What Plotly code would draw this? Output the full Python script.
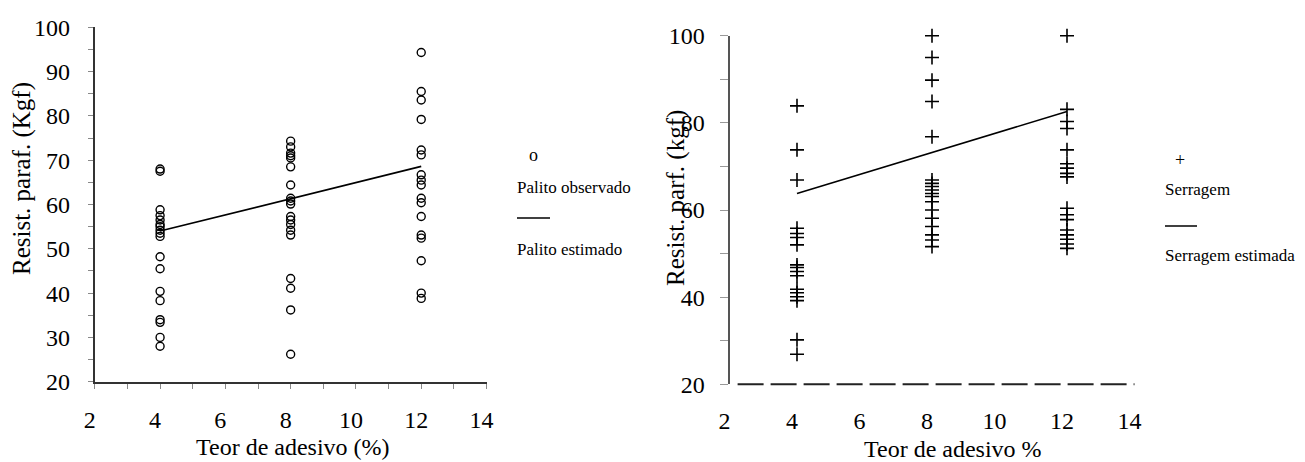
import plotly.graph_objects as go

# ---------------- data ----------------
palito_x4 = [68, 67.5, 58.8, 57.5, 56.5, 55.5, 55, 54.2, 53.5, 52.8, 48.2, 45.5, 40.4, 38.3, 34, 33.4, 30, 28]
palito_x8 = [74.3, 73, 71.6, 71, 70.5, 68.5, 64.4, 61.4, 60.8, 60.1, 57.3, 56.5, 55.5, 54.2, 53.1, 43.3, 41.1, 36.2, 26.2]
palito_x12 = [94.3, 85.5, 83.6, 79.2, 72.3, 71.2, 66.7, 65.5, 64.4, 61.4, 60.4, 57.3, 53.1, 52.4, 47.3, 40, 38.8]
palito_est_x = [4, 12]
palito_est_y = [54.0, 68.6]

serragem_x4 = [83.9, 73.8, 66.9, 55.8, 54.6, 53.7, 52, 47.4, 46.8, 45.9, 44.9, 41.8, 41, 40.1, 39.2, 30.2, 26.9]
serragem_x8 = [100, 95, 89.8, 84.9, 76.8, 66.9, 66.1, 65.4, 64.6, 63.8, 63.1, 61.9, 60, 58.1, 56.2, 54.3, 53.1, 51.6]
serragem_x12 = [100, 83.1, 80.3, 78.7, 73.8, 70.6, 69.6, 68.4, 67.6, 60.4, 58.9, 57.8, 55.4, 54.3, 53.3, 52.2, 51.2]
serragem_est_x = [4, 12]
serragem_est_y = [63.8, 82.6]

x_levels = [4, 8, 12]
x_ticks = [2, 4, 6, 8, 10, 12, 14]
left_y_ticks = [20, 30, 40, 50, 60, 70, 80, 90, 100]
right_y_ticks = [20, 40, 60, 80, 100]

FONT = "Liberation Serif"


def flat(levels, groups):
    xs, ys = [], []
    for lv, g in zip(levels, groups):
        xs += [lv] * len(g)
        ys += list(g)
    return xs, ys


px, py = flat(x_levels, [palito_x4, palito_x8, palito_x12])
sx, sy = flat(x_levels, [serragem_x4, serragem_x8, serragem_x12])

fig = go.Figure()
fig.add_trace(go.Scatter(x=px, y=py, mode="markers", xaxis="x", yaxis="y", cliponaxis=False,
                         marker=dict(symbol="circle-open", size=8, color="black", line=dict(width=1.4, color="black")),
                         name="Palito observado"))
fig.add_trace(go.Scatter(x=palito_est_x, y=palito_est_y, mode="lines", xaxis="x", yaxis="y",
                         line=dict(color="black", width=1.6), name="Palito estimado"))
fig.add_trace(go.Scatter(x=sx, y=sy, mode="markers", xaxis="x2", yaxis="y2", cliponaxis=False,
                         marker=dict(symbol="cross-thin-open", size=10, color="black", line=dict(width=1.6, color="black")),
                         name="Serragem"))
fig.add_trace(go.Scatter(x=serragem_est_x, y=serragem_est_y, mode="lines", xaxis="x2", yaxis="y2",
                         line=dict(color="black", width=1.6), name="Serragem estimada"))

W, H = 1305, 462
tickfont = dict(family=FONT, size=24, color="black")

# left panel geometry
LX = [94.8 / W, 486.5 / W]
LY = [(H - 381.7) / H, (H - 27.3) / H]
# right panel geometry
RX = [729.5 / W, 1134.5 / W]
RY = [(H - 384.3) / H, (H - 35.7) / H]

common = dict(showgrid=False, zeroline=False, automargin=False)

fig.update_layout(
    template="none",
    width=W, height=H, margin=dict(l=0, r=0, t=0, b=0, pad=0), autosize=False,
    paper_bgcolor="white", plot_bgcolor="white", showlegend=False,
    xaxis=dict(domain=LX, range=[2, 14], anchor="y", **common,
               showline=True, linecolor="#333", linewidth=2,
               tickmode="array", tickvals=x_ticks, ticks="outside", ticklen=5, tickcolor="#888", tickwidth=1,
               minor=dict(ticks="outside", dtick=1, tick0=2, ticklen=5, tickcolor="#888", tickwidth=1),
               tickfont=tickfont, ticklabelshift=-5, ticklabelstandoff=10),
    xaxis3=dict(overlaying="x", range=[2, 14], anchor="y", **common,
                showticklabels=False, tickmode="array", tickvals=x_ticks, ticks="inside", ticklen=5,
                tickcolor="#888", tickwidth=1,
                minor=dict(ticks="inside", dtick=1, tick0=2, ticklen=5, tickcolor="#888", tickwidth=1)),
    yaxis=dict(domain=LY, range=[20, 100], anchor="x", **common,
               showline=True, linecolor="#333", linewidth=2,
               tickmode="array", tickvals=left_y_ticks, ticks="outside", ticklen=5, tickcolor="#888", tickwidth=1,
               minor=dict(ticks="outside", dtick=5, tick0=20, ticklen=5, tickcolor="#888", tickwidth=1),
               tickfont=tickfont, ticklabelstandoff=13),
    yaxis3=dict(overlaying="y", range=[20, 100], anchor="x", **common,
                showticklabels=False, tickmode="array", tickvals=left_y_ticks, ticks="inside", ticklen=5,
                tickcolor="#888", tickwidth=1,
                minor=dict(ticks="inside", dtick=5, tick0=20, ticklen=5, tickcolor="#888", tickwidth=1)),
    xaxis2=dict(domain=RX, range=[2, 14], anchor="y2", **common,
                showline=False, tickmode="array", tickvals=x_ticks, ticks="",
                tickfont=tickfont, ticklabelshift=-5, ticklabelstandoff=20),
    yaxis2=dict(domain=RY, range=[20, 100], anchor="x2", **common,
                showline=True, linecolor="#555", linewidth=2,
                tickmode="array", tickvals=right_y_ticks, ticks="outside", ticklen=8, tickcolor="#999", tickwidth=1,
                minor=dict(ticks="outside", dtick=10, tick0=20, ticklen=8, tickcolor="#999", tickwidth=1),
                tickfont=tickfont, ticklabelstandoff=10),
    yaxis4=dict(overlaying="y2", range=[20, 100], anchor="x2", **common,
                showticklabels=False, tickmode="array", tickvals=right_y_ticks, ticks="inside", ticklen=8,
                tickcolor="#999", tickwidth=1,
                minor=dict(ticks="inside", dtick=10, tick0=20, ticklen=8, tickcolor="#999", tickwidth=1)),
)

# dashed x axis line of right panel
fig.add_shape(type="line", xref="x2 domain", yref="y2 domain", x0=0.02, x1=1.0, y0=0, y1=0,
              line=dict(color="#222", width=2, dash="26px,7px"))


def pxp(x):
    return x / W


def pyp(y):
    return (H - y) / H


ann = []
titlefont = dict(family=FONT, size=24, color="black")
ann.append(dict(text="Teor de adesivo (%)", x=pxp(293), y=pyp(447), xref="paper", yref="paper",
                showarrow=False, font=titlefont, xanchor="center", yanchor="middle"))
ann.append(dict(text="Resist. paraf. (Kgf)", x=pxp(22), y=pyp(179), xref="paper", yref="paper",
                showarrow=False, font=dict(family=FONT, size=25, color="black"), textangle=-90,
                xanchor="center", yanchor="middle"))
ann.append(dict(text="Teor de adesivo %", x=pxp(953), y=pyp(449), xref="paper", yref="paper",
                showarrow=False, font=titlefont, xanchor="center", yanchor="middle"))
ann.append(dict(text="Resist. parf. (kgf)", x=pxp(676), y=pyp(198), xref="paper", yref="paper",
                showarrow=False, font=dict(family=FONT, size=25, color="black"), textangle=-90,
                xanchor="center", yanchor="middle"))

legfont = dict(family=FONT, size=17, color="black")
# left legend
ann.append(dict(text="o", x=pxp(533), y=pyp(155), xref="paper", yref="paper", showarrow=False,
                font=dict(family=FONT, size=18, color="black"), xanchor="center", yanchor="middle"))
ann.append(dict(text="Palito observado", x=pxp(515), y=pyp(187), xref="paper", yref="paper", showarrow=False,
                font=legfont, xanchor="left", yanchor="middle"))
ann.append(dict(text="Palito estimado", x=pxp(515), y=pyp(249), xref="paper", yref="paper", showarrow=False,
                font=legfont, xanchor="left", yanchor="middle"))
fig.add_shape(type="line", xref="paper", yref="paper", x0=pxp(517), x1=pxp(550), y0=pyp(218), y1=pyp(218),
              line=dict(color="black", width=1.5))
# right legend
ann.append(dict(text="+", x=pxp(1180), y=pyp(160), xref="paper", yref="paper", showarrow=False,
                font=dict(family=FONT, size=18, color="black"), xanchor="center", yanchor="middle"))
ann.append(dict(text="Serragem", x=pxp(1163), y=pyp(189), xref="paper", yref="paper", showarrow=False,
                font=legfont, xanchor="left", yanchor="middle"))
ann.append(dict(text="Serragem estimada", x=pxp(1163), y=pyp(255), xref="paper", yref="paper", showarrow=False,
                font=legfont, xanchor="left", yanchor="middle"))
fig.add_shape(type="line", xref="paper", yref="paper", x0=pxp(1165), x1=pxp(1197), y0=pyp(226), y1=pyp(226),
              line=dict(color="black", width=1.5))

fig.update_layout(annotations=ann)
fig.write_html("out.html", config={"displayModeBar": False},
               post_script="document.body.style.margin='0';document.body.style.overflow='hidden';")
